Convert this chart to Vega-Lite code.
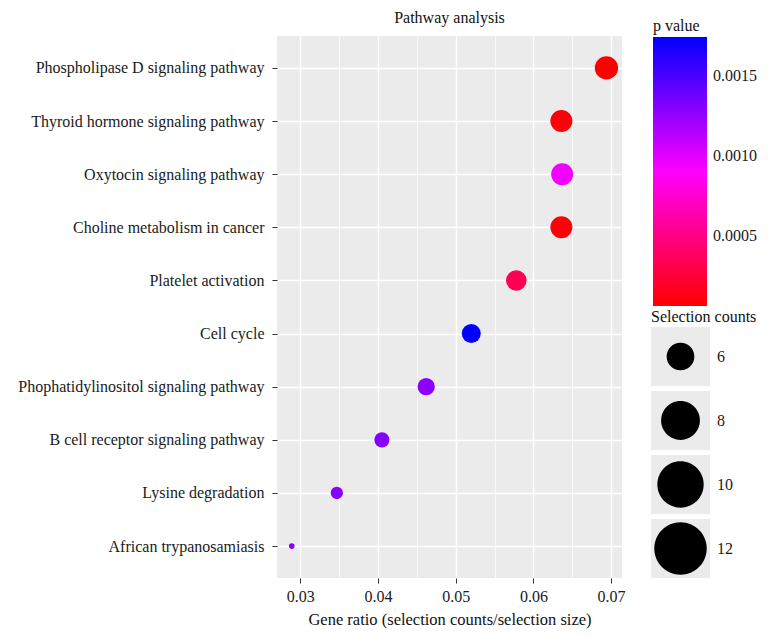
{
  "$schema": "https://vega.github.io/schema/vega-lite/v6.json",
  "width": 345,
  "height": 542,
  "autosize": {"type": "none"},
  "padding": {"left": 277, "top": 36, "right": 146, "bottom": 58},
  "background": "white",
  "title": {"text": "Pathway analysis", "fontSize": 16, "font": "Liberation Serif", "fontWeight": "normal", "color": "#111111", "offset": -8, "anchor": "middle"},
  "data": {"values": [
    {"pathway": "Phospholipase D signaling pathway", "ratio": 0.0694, "count": 12, "p": 0.000065},
    {"pathway": "Thyroid hormone signaling pathway", "ratio": 0.0636, "count": 11, "p": 0.0001},
    {"pathway": "Oxytocin signaling pathway", "ratio": 0.0637, "count": 11, "p": 0.00095},
    {"pathway": "Choline metabolism in cancer", "ratio": 0.0636, "count": 11, "p": 0.00009},
    {"pathway": "Platelet activation", "ratio": 0.0578, "count": 10, "p": 0.00034},
    {"pathway": "Cell cycle", "ratio": 0.0520, "count": 9, "p": 0.00174},
    {"pathway": "Phophatidylinositol signaling pathway", "ratio": 0.0462, "count": 8, "p": 0.00128},
    {"pathway": "B cell receptor signaling pathway", "ratio": 0.0405, "count": 7, "p": 0.0013},
    {"pathway": "Lysine degradation", "ratio": 0.0347, "count": 6, "p": 0.0013},
    {"pathway": "African trypanosamiasis", "ratio": 0.0289, "count": 5, "p": 0.0013}
  ]},
  "encoding": {
    "x": {
      "field": "ratio", "type": "quantitative",
      "scale": {"domain": [0.027, 0.0714], "nice": false, "zero": false},
      "axis": {
        "title": "Gene ratio (selection counts/selection size)",
        "values": [0.03, 0.035, 0.04, 0.045, 0.05, 0.055, 0.06, 0.065, 0.07],
        "labelExpr": "round(datum.value*1000) % 10 == 0 ? format(datum.value, '.2f') : ''",
        "tickOpacity": {"condition": {"test": "round(datum.value*1000) % 10 != 0", "value": 0}, "value": 1},
        "gridWidth": {"condition": {"test": "round(datum.value*1000) % 10 != 0", "value": 0.7}, "value": 1.4},
        "labelPadding": 5,
        "titlePadding": 7
      }
    },
    "y": {
      "field": "pathway", "type": "nominal", "sort": null,
      "scale": {"type": "point", "padding": 0.6},
      "axis": {"title": null, "labelPadding": 8, "gridWidth": 1.4, "labelLimit": 400}
    }
  },
  "layer": [
    {
      "mark": {"type": "point", "filled": true, "opacity": 0},
      "encoding": {
        "fill": {
          "field": "count", "type": "nominal",
          "scale": {"range": ["#EBEBEB"]},
          "legend": {
            "orient": "none", "legendX": 374, "legendY": 273,
            "title": "Selection counts", "titlePadding": 2,
            "values": [6, 8, 10, 12],
            "symbolType": "square", "symbolSize": 3481, "symbolStrokeWidth": 0, "symbolOpacity": 1,
            "rowPadding": 5, "labelOffset": 7
          }
        }
      }
    },
    {
      "mark": {"type": "circle", "opacity": 1, "strokeWidth": 0},
      "encoding": {
        "color": {
          "field": "p", "type": "quantitative",
          "scale": {"range": ["#FF0000", "#0000FF"], "interpolate": "hsl", "zero": false, "nice": false},
          "legend": {
            "orient": "none", "legendX": 376, "legendY": -18,
            "title": "p value", "titlePadding": 3,
            "direction": "vertical",
            "gradientLength": 269, "gradientThickness": 54, "gradientStrokeWidth": 0,
            "values": [0.0005, 0.001, 0.0015], "format": ".4f",
            "labelOffset": 6, "labelOverlap": false
          }
        },
        "size": {
          "field": "count", "type": "quantitative",
          "scale": {"domain": [5, 6, 7, 8, 9, 10, 11, 12], "range": [32, 152, 228, 297, 361, 424, 484, 543]},
          "legend": {
            "orient": "none", "legendX": 374, "legendY": 273,
            "title": "Selection counts", "titlePadding": 2, "titleOpacity": 0, "labelOpacity": 0,
            "labelExpr": "''",
            "values": [6, 8, 10, 12],
            "rowPadding": 5, "clipHeight": 59, "labelOffset": 50,
            "symbolType": "M -2.25 0 A 2.25 2.25 0 1 1 2.25 0 A 2.25 2.25 0 1 1 -2.25 0 Z",
            "symbolFillColor": "black", "symbolStrokeWidth": 0, "symbolOpacity": 1,
            "encode": {
              "symbols": {"update": {"x": {"value": 29.5}, "y": {"value": 29.5}, "fill": {"value": "black"}}}
            }
          }
        }
      }
    }
  ],
  "config": {
    "font": "Liberation Serif",
    "view": {"fill": "#EBEBEB", "stroke": null},
    "axis": {
      "labelFont": "Liberation Serif", "labelFontSize": 16, "labelColor": "#1a1a1a",
      "titleFont": "Liberation Serif", "titleFontSize": 16.5, "titleFontWeight": "normal", "titleColor": "#111111",
      "tickSize": 5, "tickColor": "#333333", "tickWidth": 1,
      "domain": false, "grid": true, "gridColor": "#FFFFFF"
    },
    "legend": {
      "labelFont": "Liberation Serif", "labelFontSize": 16, "labelColor": "#1a1a1a",
      "titleFont": "Liberation Serif", "titleFontSize": 16, "titleFontWeight": "normal", "titleColor": "#111111",
      "padding": 0
    }
  }
}
